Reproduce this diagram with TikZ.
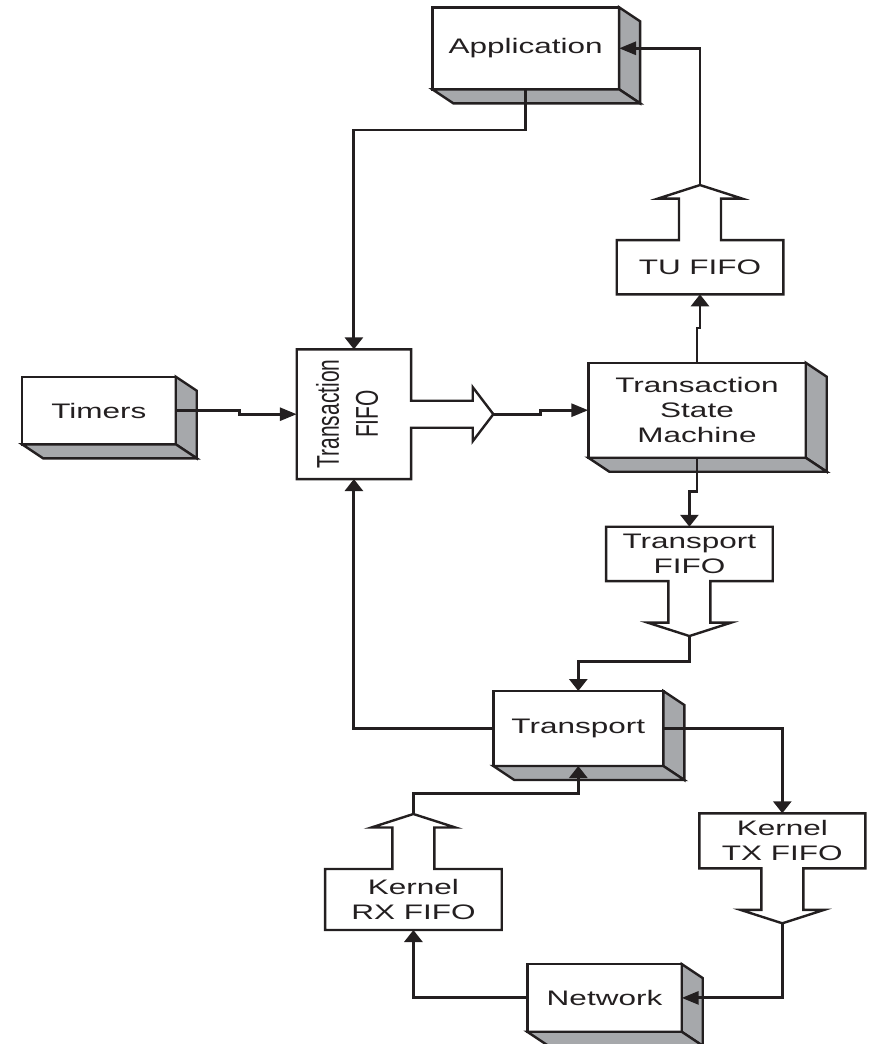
\documentclass[tikz,border=0pt]{standalone}
\usepackage{fontspec}
\setmainfont{Liberation Sans}
\usetikzlibrary{arrows.meta,calc}

\definecolor{ink}{RGB}{35,31,32}
\definecolor{facegray}{RGB}{166,168,171}

% wide lettering (horizontal stretch) and its rotated counterpart
\newcommand\xw[1]{\scalebox{1.5}[1]{#1}}
\newcommand\yw[1]{\scalebox{1}[1.5]{#1}}
\newcommand\lab{\fontsize{21}{25}\selectfont}

% side and bottom faces of a raised block
\newcommand\solidfaces[1]{%
  \draw[face] (#1.north east) -- ++(21,14) -- ($(#1.south east)+(21,14)$) -- (#1.south east) -- cycle;
  \draw[face] (#1.south west) -- ++(21,14) -- ($(#1.south east)+(21,14)$) -- (#1.south east) -- cycle;}

% queue outlines joined with a hollow arrow
\newcommand\queueup[1]{%
  \draw[outline] (#1.south west) -- (#1.south east) -- (#1.north east)
    -- ($(#1.north)+(21,0)$) -- ++(0,-41.5) -- ++(21,0) -- ($(#1.north)+(0,-55)$)
    -- ($(#1.north)+(-42,-41.5)$) -- ++(21,0) -- ++(0,41.5) -- (#1.north west) -- cycle;
  \coordinate (#1-tip) at ($(#1.north)+(0,-55)$);}
\newcommand\queuedown[1]{%
  \draw[outline] (#1.north west) -- (#1.north east) -- (#1.south east)
    -- ($(#1.south)+(21,0)$) -- ++(0,41.5) -- ++(21,0) -- ($(#1.south)+(0,55)$)
    -- ($(#1.south)+(-42,41.5)$) -- ++(21,0) -- ++(0,-41.5) -- (#1.south west) -- cycle;
  \coordinate (#1-tip) at ($(#1.south)+(0,55)$);}

\begin{document}
\begin{tikzpicture}[x=1pt,y=-1pt,
  front/.style={draw=ink, fill=white, line width=2.4pt, inner sep=0pt, outer sep=0pt,
    align=center, font=\lab, text=ink},
  queue/.style={draw=none, inner sep=0pt, outer sep=0pt, align=center, font=\lab, text=ink},
  face/.style={draw=ink, fill=facegray, line width=2.4pt, line join=miter},
  outline/.style={draw=ink, line width=2.4pt, line join=miter},
  conn/.style={draw=ink, line width=2.9pt, line join=miter},
  ah/.style={-{Triangle[length=17pt,width=13pt]}},
  av/.style={-{Triangle[length=12pt,width=18pt]}}]

\useasboundingbox (0,0) rectangle (868,1044);

% raised blocks
\node[front, minimum width=186.7pt, minimum height=82pt] (app) at (525.7,48.3) {\xw{Application}};
\solidfaces{app}
\node[front, minimum width=153.7pt, minimum height=67.6pt] (timers) at (98.9,410.5) {\xw{Timers}};
\solidfaces{timers}
\node[front, minimum width=217.4pt, minimum height=95pt] (tsm) at (697,410.2)
  {\xw{Transaction}\\\xw{State}\\\xw{Machine}};
\solidfaces{tsm}
\node[front, minimum width=170pt, minimum height=75pt] (tr) at (578.3,728.5) {\xw{Transport}};
\solidfaces{tr}
\node[front, minimum width=154.4pt, minimum height=67.7pt] (net) at (604.5,997.9) {\xw{Network}};
\solidfaces{net}

% transaction queue with its outgoing hollow arrow
\node[queue, minimum width=114.3pt, minimum height=129.7pt] (tfifo) at (353.9,414.2) {};
\draw[outline] (tfifo.north west) -- (tfifo.north east) -- ($(tfifo.east)+(0,-13.5)$)
  -- ++(61.7,0) -- ++(0,-13.5) -- ($(tfifo.east)+(82.3,0)$) -- ($(tfifo.east)+(61.7,27)$)
  -- ++(0,-13.5) -- ++(-61.7,0) -- (tfifo.south east) -- (tfifo.south west) -- cycle;
\coordinate (tfifo-tip) at ($(tfifo.east)+(82.3,0)$);
\node[queue, rotate=90, font=\fontsize{21}{39}\selectfont] (tfifo-label) at (347,414)
  {\yw{Transaction}\\\yw{FIFO}};

% other queues
\node[queue, minimum width=166.6pt, minimum height=54.3pt] (tu) at (700,267.2) {\xw{TU FIFO}};
\queueup{tu}
\node[queue, minimum width=166.7pt, minimum height=54.3pt] (tpf) at (689.4,553.9) {\xw{Transport}\\\xw{FIFO}};
\queuedown{tpf}
\node[queue, minimum width=166pt, minimum height=55pt] (ktx) at (782.3,840.8) {\xw{Kernel}\\\xw{TX FIFO}};
\queuedown{ktx}
\node[queue, minimum width=176.7pt, minimum height=61pt] (krx) at (413.4,899.5) {\xw{Kernel}\\\xw{RX FIFO}};
\queueup{krx}

% connectors
\draw[conn,av] (app.south) -- ++(0,40.7) -| (tfifo.north);
\draw[conn,ah] (timers.east) -- ++(63.3,0) |- (tfifo.west);
\draw[conn,ah] (tfifo-tip) -- ++(47,0) |- (tsm.west);
\draw[conn,av] (tsm.north) -- ++(0,-34.7) -| (tu.south);
\draw[conn,ah] (tu-tip) |- (app.east);
\draw[conn,av] (tsm.south) -- ++(0,34) -| (tpf.north);
\draw[conn,av] (tpf-tip) -- ++(0,25.7) -| (tr.north);
\draw[conn,av] (tr.west) -| (tfifo.south);
\draw[conn,av] (tr.east) -| (ktx.north);
\draw[conn,ah] (ktx-tip) |- (net.east);
\draw[conn,av] (net.west) -| (krx.south);
\draw[conn,av] (krx-tip) -- ++(0,-20.7) -| (tr.south);

\end{tikzpicture}
\end{document}
